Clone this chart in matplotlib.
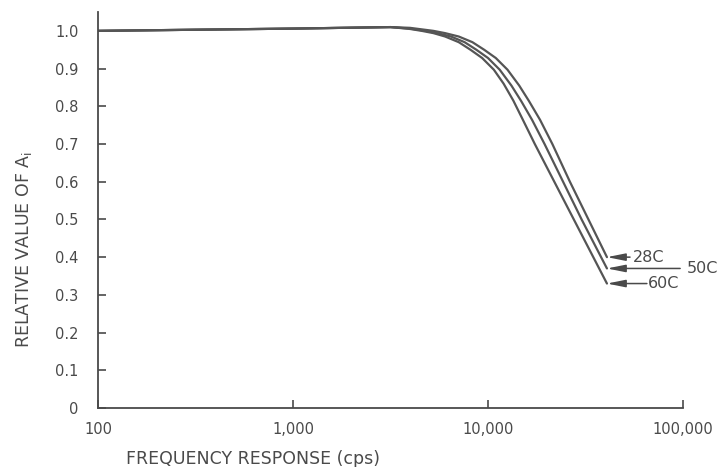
import matplotlib
matplotlib.use("Agg")
import matplotlib.pyplot as plt

# ---- data ----
f_28 = [100, 1000, 3162, 3981, 4571, 5248, 6026, 7079, 8318, 9550, 10965, 12589, 14454,
        16218, 18493, 21380, 26303, 32734, 40738]
v_28 = [1.000, 1.006, 1.010, 1.008, 1.004, 1.000, 0.994, 0.985, 0.970, 0.950, 0.928, 0.897,
        0.855, 0.814, 0.764, 0.700, 0.600, 0.500, 0.400]

f_50 = [100, 1000, 3162, 3981, 4786, 5495, 6457, 7586, 8710, 10000, 11482, 13183, 14791,
        16827, 19498, 24266, 30200, 40738]
v_50 = [1.000, 1.006, 1.010, 1.006, 1.000, 0.994, 0.985, 0.970, 0.950, 0.928, 0.897, 0.855,
        0.814, 0.764, 0.700, 0.600, 0.500, 0.370]

f_60 = [100, 1000, 3162, 3981, 4571, 5248, 6026, 7079, 8128, 9333, 10715, 12023, 13490,
        15101, 17378, 21878, 27542, 34674, 40738]
v_60 = [1.000, 1.006, 1.010, 1.005, 1.000, 0.994, 0.985, 0.970, 0.950, 0.928, 0.897, 0.860,
        0.815, 0.764, 0.700, 0.600, 0.500, 0.400, 0.330]

series_labels = ["28C", "50C", "60C"]
x_ticks = [100, 1000, 10000, 100000]
x_ticklabels = ["100", "1,000", "10,000", "100,000"]
y_ticks = [0, 0.1, 0.2, 0.3, 0.4, 0.5, 0.6, 0.7, 0.8, 0.9, 1.0]
y_ticklabels = ["0", "0.1", "0.2", "0.3", "0.4", "0.5", "0.6", "0.7", "0.8", "0.9", "1.0"]

# label annotation geometry (tail of arrow, text position) in data units
arrow_tail = [53500, 96700, 65300]
text_x = [55500, 105000, 66000]

ink = "#4a4a4a"
W, H = 719, 467
fig = plt.figure(figsize=(W / 100, H / 100), dpi=100)
ax = fig.add_axes([98 / W, 1 - 408 / H, 585 / W, 396 / H])

for f, v in [(f_28, v_28), (f_50, v_50), (f_60, v_60)]:
    ax.plot(f, v, color="#555555", lw=1.6, solid_capstyle="round", solid_joinstyle="round")

ax.set_xscale("log")
ax.set_xlim(100, 100000)
ax.set_ylim(0, 1.05)
ax.minorticks_off()
ax.set_xticks(x_ticks)
ax.set_xticklabels(x_ticklabels)
ax.set_yticks(y_ticks)
ax.set_yticklabels(y_ticklabels)

for s in ["top", "right"]:
    ax.spines[s].set_visible(False)
for s in ["left", "bottom"]:
    ax.spines[s].set_color(ink)
    ax.spines[s].set_linewidth(1.3)

ax.tick_params(axis="both", direction="in", length=6, width=1.2, color=ink,
               labelcolor=ink, labelsize=10.5)
ax.tick_params(axis="y", pad=14)
ax.tick_params(axis="x", pad=10)

ends = [(f_28[-1], v_28[-1]), (f_50[-1], v_50[-1]), (f_60[-1], v_60[-1])]
for (fe, ve), lab, tail, tx in zip(ends, series_labels, arrow_tail, text_x):
    ax.annotate("", xy=(fe, ve), xytext=(tail, ve),
                arrowprops=dict(arrowstyle="-|>,head_length=1.1,head_width=0.22",
                                color=ink, lw=1.1, shrinkA=0, shrinkB=0,
                                mutation_scale=10))
    ax.text(tx, ve, lab, color=ink, fontsize=11.5, va="center", ha="left",
            clip_on=False)

fig.text(24 / W, 1 - 250 / H, "RELATIVE VALUE OF A$_\\mathregular{i}$", rotation=90,
         color=ink, fontsize=12.5, ha="center", va="center")
fig.text(253 / W, 1 - 459 / H, "FREQUENCY RESPONSE (cps)", color=ink,
         fontsize=12.5, ha="center", va="center")

fig.savefig("out.png", dpi=100, facecolor="white")
